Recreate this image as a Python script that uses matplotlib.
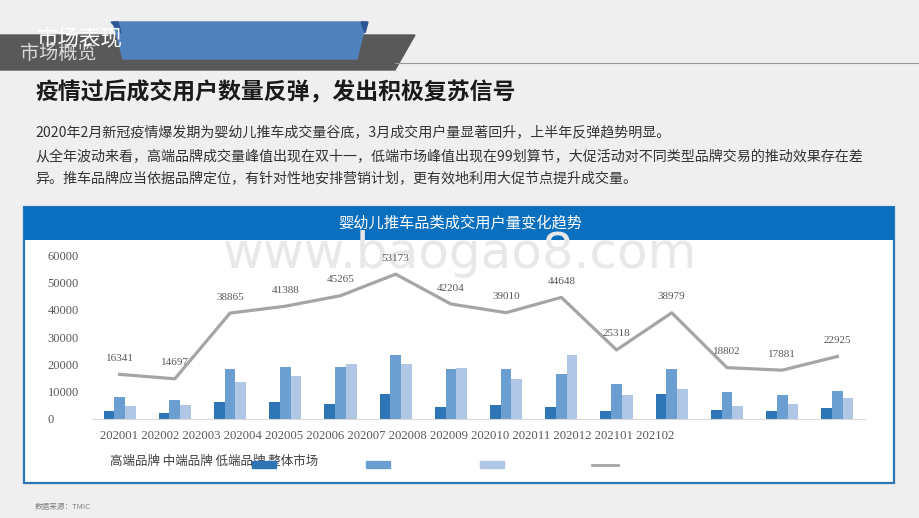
import matplotlib
matplotlib.use("Agg")
import matplotlib.pyplot as plt
from matplotlib.patches import Polygon, Rectangle

plt.rcParams['font.family'] = ['Noto Sans CJK SC', 'DejaVu Sans']

# 数据
months = ['202001', '202002', '202003', '202004', '202005', '202006', '202007',
          '202008', '202009', '202010', '202011', '202012', '202101', '202102']
gaoduan = [2700, 2000, 6000, 6000, 5300, 9100, 4500, 5000, 4300, 2900, 9100, 3200, 2900, 3900]
zhongduan = [8000, 6900, 18300, 19100, 19100, 23300, 18300, 18400, 16300, 12700, 18400, 9900, 8800, 10400]
diduan = [4800, 5000, 13700, 15600, 20100, 20200, 18600, 14800, 23500, 8800, 11000, 4800, 5500, 7800]
zhengti = [16341, 14697, 38865, 41388, 45265, 53173, 42204, 39010, 44648, 25318, 38979, 18802, 17881, 22925]
yticks = [0, 10000, 20000, 30000, 40000, 50000, 60000]
series_names = ['高端品牌', '中端品牌', '低端品牌', '整体市场']

c_gao = '#2E75B6'
c_zhong = '#6C9FD1'
c_di = '#AFC6E4'
c_line = '#A5A5A5'

fig = plt.figure(figsize=(9.2, 5.18), dpi=100, facecolor='#EFEFEF')

# 背景层，用像素坐标
bg = fig.add_axes([0, 0, 1, 1], zorder=0)
bg.set_xlim(0, 920)
bg.set_ylim(518, 0)
bg.axis('off')

# 页眉
bg.add_patch(Polygon([(0, 35), (415, 35), (395, 70), (0, 70)], closed=True, color='#595959'))
bg.plot([395, 920], [63, 63], color='#9A9A9A', lw=0.8)
bg.add_patch(Polygon([(113, 22), (366, 22), (357, 59), (123, 59)], closed=True, color='#4F81BD'))
bg.add_patch(Polygon([(111, 22), (118, 22), (121, 33)], closed=True, color='#2F5597'))
bg.add_patch(Polygon([(361, 22), (368, 22), (365, 33)], closed=True, color='#2F5597'))
bg.text(20, 53, '市场概览', fontsize=13.8, color='#D9D9D9', va='center')
bg.text(37, 38, '市场表现', fontsize=15.5, color='white', va='center')

# 标题与说明文字
bg.text(35, 92, '疫情过后成交用户数量反弹，发出积极复苏信号', fontsize=16.5,
        fontweight='bold', color='#1A1A1A', va='center')
para = ['2020年2月新冠疫情爆发期为婴幼儿推车成交量谷底，3月成交用户量显著回升，上半年反弹趋势明显。',
        '从全年波动来看，高端品牌成交量峰值出现在双十一，低端市场峰值出现在99划算节，大促活动对不同类型品牌交易的推动效果存在差',
        '异。推车品牌应当依据品牌定位，有针对性地安排营销计划，更有效地利用大促节点提升成交量。']
for i, line in enumerate(para):
    bg.text(35, [133, 157, 178][i], line, fontsize=10.1, color='#333333', va='center')

# 图表面板
bg.add_patch(Rectangle((24, 207), 870, 276, facecolor='white', edgecolor='#2E75B6', lw=1.6))
bg.text(460, 268, 'www.baogao8.com', family='DejaVu Sans', fontsize=36,
        color='#E8E8E8', ha='center', va='baseline')
bg.add_patch(Rectangle((24, 207), 870, 33, facecolor='#0B6FC0', edgecolor='none'))
bg.text(460, 223, '婴幼儿推车品类成交用户量变化趋势', fontsize=11, color='white',
        ha='center', va='center')

# X 轴标签（原图挤在一行）
bg.text(100, 436, ' '.join(months), family='Liberation Serif', fontsize=9.2,
        color='#595959', ha='left', va='center')

# 图例
bg.text(110, 461, ' '.join(series_names), fontsize=9, color='#404040', va='center')
bg.add_patch(Rectangle((252, 461), 24, 7, color=c_gao, zorder=3))
bg.add_patch(Rectangle((366, 461), 24, 7, color=c_zhong))
bg.add_patch(Rectangle((480, 461), 24, 7, color=c_di))
bg.plot([592, 618], [464.5, 464.5], color=c_line, lw=2)

bg.text(35, 507, '数据来源：TMIC', fontsize=5.5, color='#808080', va='center')

# 主图
ax = fig.add_axes([92 / 920, 1 - 418.8 / 518, 773 / 920, 163.2 / 518], zorder=2)
ax.patch.set_alpha(0)
x = list(range(len(months)))
w = 0.194
ax.bar([i - w for i in x], gaoduan, width=w, color=c_gao)
ax.bar(x, zhongduan, width=w, color=c_zhong)
ax.bar([i + w for i in x], diduan, width=w, color=c_di)
ax.plot(x, zhengti, color=c_line, lw=2.3)
for i, v in enumerate(zhengti):
    ax.annotate(str(v), (i, v), xytext=(0, 11.5), textcoords='offset points',
                ha='center', va='center', family='Liberation Serif', fontsize=8,
                color='#595959')

ax.set_xlim(-0.5, len(months) - 0.5)
ax.set_ylim(0, 60000)
ax.set_xticks([])
ax.set_yticks(yticks)
ax.set_yticklabels([str(t) for t in yticks], family='Liberation Serif', fontsize=9,
                   color='#595959', ha='left')
ax.tick_params(axis='y', length=0, pad=32)
for s in ['top', 'right', 'left']:
    ax.spines[s].set_visible(False)
ax.spines['bottom'].set_color('#D9D9D9')

fig.savefig('out.png', dpi=100, facecolor=fig.get_facecolor())
